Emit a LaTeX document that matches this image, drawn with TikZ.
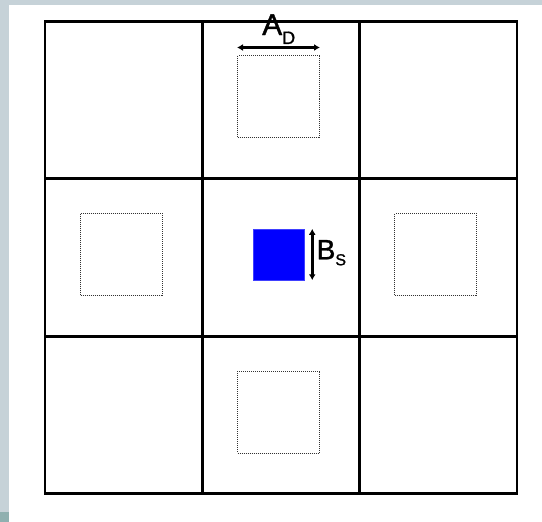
\documentclass[tikz,border=0pt]{standalone}
\usepackage{fontspec}
\setmainfont{Liberation Sans}
\newfontfamily\lblfont[FakeBold=1.2]{Liberation Sans}
\usetikzlibrary{positioning,arrows.meta}
\definecolor{slide}{RGB}{198,210,216}
\definecolor{slidedark}{RGB}{143,176,176}

\begin{document}
\begin{tikzpicture}[x=1pt, y=-1pt,
  gridln/.style={line width=2.8pt, line cap=rect},
  target/.style={draw=black!80, dash pattern=on 1pt off 1pt, line width=1pt,
                 minimum size=82pt, inner sep=0pt},
  src/.style={fill=blue, draw=blue!75!white, line width=0.5pt, minimum size=51pt, inner sep=0pt},
  ar/.style={{Latex[length=6pt,width=7pt]}-{Latex[length=6pt,width=7pt]}, line width=2.6pt},
  lbl/.style={inner sep=0pt, font=\lblfont\fontsize{30}{30}\selectfont}
]
% slide background
\fill[white] (0,0) rectangle (542,522);
\fill[slide] (0,0) rectangle (542,4.5);
\fill[slide] (0,0) rectangle (9,512);
\fill[slidedark] (0,512) rectangle (9,522);
\useasboundingbox (0,0) rectangle (542,522);

% 3x3 cells
\draw[gridln] (45,21.5) rectangle (517,493.5);
\foreach \i in {1,2} {
  \draw[gridln] (45+157.33*\i,21.5) -- (45+157.33*\i,493.5);
  \draw[gridln] (45,21.5+157.33*\i) -- (517,21.5+157.33*\i);
}

\node[target] (tN) at (278.5,96.5) {};
\node[target] (tW) at (121.5,254.5) {};
\node[target] (tE) at (435.5,254.5) {};
\node[target] (tS) at (278.5,412) {};
\node[src] (src) at (278.5,254.5) {};

\draw[ar] ([yshift=7.5pt]tN.north west) -- ([yshift=7.5pt]tN.north east);
\node[lbl, anchor=base west] (ad) at (262,35) {A\raisebox{-9pt}{\fontsize{18}{18}\selectfont D}};

\draw[ar] ([xshift=8pt]src.north east) -- ([xshift=8pt]src.south east);
\node[lbl, anchor=base west, font=\lblfont\fontsize{28}{28}\selectfont] (bs) at (316.5,259.3)
  {B\raisebox{-6pt}{\fontsize{16}{16}\selectfont S}};
\end{tikzpicture}
\end{document}
